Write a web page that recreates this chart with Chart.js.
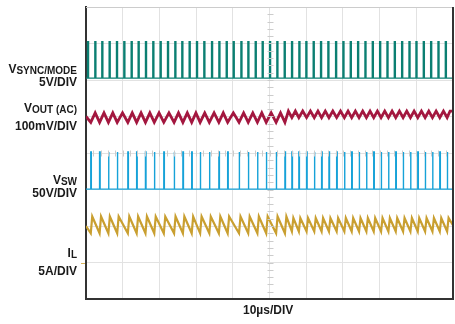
<!DOCTYPE html>
<html lang="en">
<head>
  <meta charset="UTF-8">
  <title>Sync Mode Waveforms</title>
  <script src="https://cdn.jsdelivr.net/npm/chart.js"></script>
  <style>
    body { margin: 0; background: #fff; }
    #wrap { position: relative; width: 455px; height: 324px; font-family: "Liberation Sans", Arial, sans-serif; font-weight: bold; color: #1a1a1a; }
    #scope { position: absolute; left: 0; top: 0; }
    .lbl { position: absolute; right: 378px; font-size: 12px; line-height: 12px; white-space: nowrap; text-align: right; }
    .lbl sub { font-size: 10px; position: relative; top: 1px; vertical-align: baseline; line-height: 0; }
    #xscale { position: absolute; left: 243px; top: 304px; font-size: 12px; line-height: 12px; }
  </style>
</head>
<body>
<div id="wrap">
  <canvas id="scope" width="455" height="324"></canvas>
  <div class="lbl" style="top:63px">V<sub>SYNC/MODE</sub></div>
  <div class="lbl" style="top:76px">5V/DIV</div>
  <div class="lbl" style="top:102px">V<sub>OUT (AC)</sub></div>
  <div class="lbl" style="top:120px">100mV/DIV</div>
  <div class="lbl" style="top:174px">V<sub>SW</sub></div>
  <div class="lbl" style="top:187px">50V/DIV</div>
  <div class="lbl" style="top:247px">I<sub>L</sub></div>
  <div class="lbl" style="top:265px">5A/DIV</div>
  <div id="xscale">10µs/DIV</div>
</div>

<script>
// time axis in µs (10 µs/div, 10 divs), vertical axis in screen divisions (8 divs)

// rising edges of the SYNC/MODE clock (µs)
const syncEdges = [0.4, 2.4, 4.3, 6.3, 8.3, 10.3, 12.3, 14.2, 16.2, 18.2,
                   20.2, 22.2, 24.2, 26.1, 28.1, 30.1, 32.1, 34.2, 36.2, 38.2,
                   40.1, 42.2, 44.1, 46.1, 48.0, 50.0, 52.0, 54.0, 56.0, 58.0,
                   59.9, 61.9, 63.9, 65.9, 68.0, 70.0, 72.0, 74.0, 76.0, 78.0,
                   80.0, 82.0, 84.0, 86.0, 88.0, 89.9, 91.9, 93.9, 95.9, 97.9];
// rising edges of the switch node (µs): free running first, then locked
const swEdges = [1.3, 3.7, 6.1, 8.5, 11.4, 13.8, 16.2, 18.6, 21.2, 24.0,
                 26.4, 28.8, 31.1, 33.6, 36.2, 38.6, 41.7, 44.2, 46.7, 49.1,
                 51.8, 54.2, 56.1, 58.0, 60.1, 62.2, 64.2, 66.2, 68.3, 70.4,
                 72.4, 74.4, 76.4, 78.4, 80.4, 82.4, 84.4, 86.4, 88.4, 90.4,
                 92.4, 94.4, 96.4, 98.4];
const lockTime = 55;          // µs, switcher follows the clock after this
const syncWidth = 0.3;        // µs
const swWidth = 0.15;         // µs
const onTime = 0.4;           // µs

// [low, high] levels in divisions
const syncLevels = [6.05, 7.05];
const swLevels = [3.01, 4.03];
const voutFree = [4.84, 5.10];
const voutSync = [4.97, 5.15];
const ilFree = [1.80, 2.26];
const ilSync = [1.85, 2.22];
const ilZero = 1;             // ground marker for I_L

function pulses(edges, width, lv) {
  const pts = [{ x: 0, y: lv[0] }];
  for (const e of edges) {
    pts.push({ x: e, y: lv[0] }, { x: e, y: lv[1] },
             { x: e + width, y: lv[1] }, { x: e + width, y: lv[0] });
  }
  pts.push({ x: 100, y: lv[0] });
  return pts;
}

function inductor() {
  const pts = [{ x: 0, y: ilFree[0] + 0.2 }];
  for (const e of swEdges) {
    const lv = e < lockTime ? ilFree : ilSync;
    pts.push({ x: e, y: lv[0] }, { x: e + onTime, y: lv[1] });
  }
  pts.push({ x: 100, y: ilSync[1] - 0.2 });
  return pts;
}

function ripple() {
  const pts = [{ x: 0, y: voutFree[1] - 0.1 }];
  swEdges.forEach((e, i) => {
    const lv = e < lockTime ? voutFree : voutSync;
    pts.push({ x: e, y: lv[0] });
    const next = i + 1 < swEdges.length ? swEdges[i + 1] : 100;
    const hi = next < lockTime ? voutFree[1] : voutSync[1];
    pts.push({ x: (e + next) / 2, y: hi });
  });
  pts.push({ x: 100, y: voutSync[1] });
  return pts;
}

// center cross ticks, frame edges and the I_L ground marker
const scopeDecor = {
  id: 'scopeDecor',
  afterDatasetsDraw(chart) {
    const { ctx, chartArea: a, scales: { x, y } } = chart;
    ctx.save();
    ctx.strokeStyle = '#cccccc';
    ctx.lineWidth = 1;
    const cx = Math.round(x.getPixelForValue(50)) + 0.5;
    const cy = Math.round(y.getPixelForValue(4)) + 0.5;
    ctx.beginPath();
    for (let v = 0.2; v < 8; v += 0.2) {
      const py = Math.round(y.getPixelForValue(v)) + 0.5;
      ctx.moveTo(cx - 3, py); ctx.lineTo(cx + 3, py);
    }
    for (let t = 2; t < 100; t += 2) {
      const px = Math.round(x.getPixelForValue(t)) + 0.5;
      ctx.moveTo(px, cy - 3); ctx.lineTo(px, cy + 3);
    }
    ctx.moveTo(a.left, a.top + 0.5); ctx.lineTo(a.right, a.top + 0.5);
    ctx.stroke();

    ctx.strokeStyle = '#333';
    ctx.lineWidth = 2;
    ctx.beginPath();
    ctx.moveTo(a.right, a.top); ctx.lineTo(a.right, a.bottom + 1);
    ctx.stroke();

    ctx.strokeStyle = '#d9b45a';
    ctx.lineWidth = 1;
    const gy = Math.round(y.getPixelForValue(ilZero)) + 0.5;
    ctx.beginPath();
    ctx.moveTo(a.left - 5, gy); ctx.lineTo(a.left - 1, gy);
    ctx.stroke();
    ctx.restore();
  }
};

new Chart(document.getElementById('scope').getContext('2d'), {
  type: 'line',
  data: {
    datasets: [
      { label: 'VSYNC/MODE', data: pulses(syncEdges, syncWidth, syncLevels), borderColor: '#0b7f72', borderWidth: 1.3 },
      { label: 'VOUT (AC)', data: ripple(), borderColor: '#a3173f', borderWidth: 2.8 },
      { label: 'VSW', data: pulses(swEdges, swWidth, swLevels), borderColor: '#16a2d8', borderWidth: 1.4 },
      { label: 'IL', data: inductor(), borderColor: '#c99f30', borderWidth: 2.2 }
    ]
  },
  options: {
    responsive: false,
    animation: false,
    devicePixelRatio: 1,
    parsing: false,
    layout: { padding: { left: 86, right: 2, top: 7, bottom: 25 } },
    elements: { point: { radius: 0 }, line: { tension: 0, fill: false } },
    plugins: { legend: { display: false }, tooltip: { enabled: false } },
    scales: {
      x: {
        type: 'linear', min: 0, max: 100,
        ticks: { display: false, stepSize: 10 },
        grid: { color: '#e2e2e2', drawTicks: false },
        border: { color: '#333', width: 2 }
      },
      y: {
        type: 'linear', min: 0, max: 8,
        ticks: { display: false, stepSize: 1 },
        grid: { color: '#e2e2e2', drawTicks: false },
        border: { color: '#333', width: 2 }
      }
    }
  },
  plugins: [scopeDecor]
});
</script>
</body>
</html>
